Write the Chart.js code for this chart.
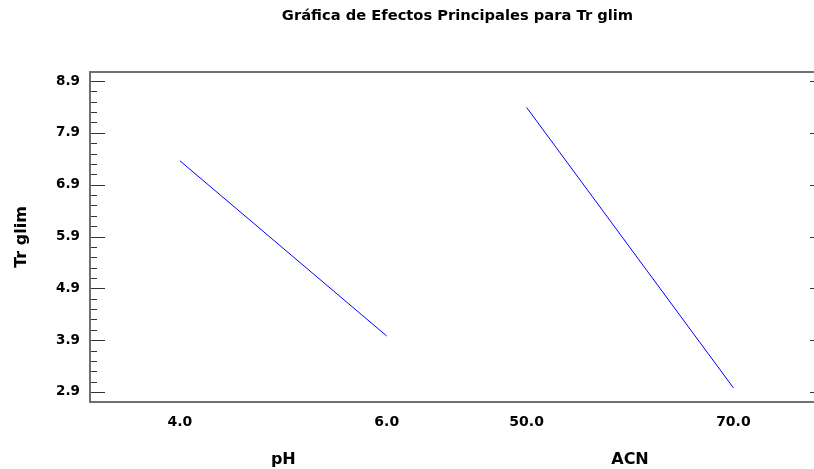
<!DOCTYPE html>
<html>
<head>
<meta charset="utf-8">
<script src="https://cdn.jsdelivr.net/npm/chart.js@4/dist/chart.umd.min.js"></script>
<style>
  html, body { margin: 0; padding: 0; overflow: hidden; background: #fff; width: 814px; height: 469px; }
  #wrap { position: relative; width: 830px; height: 469px; }
  canvas { display: block; }
</style>
</head>
<body>
<div id="wrap"><canvas id="c" width="830" height="469"></canvas></div>
<script>
// Main effects for Tr glim
const chartTitle = 'Gráfica de Efectos Principales para Tr glim';
const responseName = 'Tr glim';
const factorNames = ['pH', 'ACN'];
const phLevels = ['4.0', '6.0'];
const acnLevels = ['50.0', '70.0'];
const phMeans = [7.36, 3.98];
const acnMeans = [8.39, 2.98];
const yTickValues = [2.9, 3.9, 4.9, 5.9, 6.9, 7.9, 8.9];

// horizontal slots for each factor's low/high level on a shared linear axis
const SLOTS = [[0, 2], [3.353, 5.353]];
const X_MIN = -0.87, X_MAX = 6.239;
const Y_MIN = 2.707, Y_MAX = 9.074;

const levelLabels = phLevels.concat(acnLevels);
const levelPositions = SLOTS[0].concat(SLOTS[1]);

const FAMILY = '"DejaVu Sans", Verdana, sans-serif';

const framePlugin = {
  id: 'frame',
  afterDraw(chart) {
    const { ctx, chartArea: a, scales } = chart;
    const y = scales.y, x = scales.x;
    ctx.save();
    // inner tick marks on both vertical sides
    ctx.strokeStyle = '#333';
    ctx.lineWidth = 1;
    const drawTick = (v, len) => {
      const py = Math.round(y.getPixelForValue(v)) + 0.5;
      ctx.beginPath();
      ctx.moveTo(a.left, py); ctx.lineTo(a.left + len, py);
      ctx.moveTo(a.right, py); ctx.lineTo(a.right - len, py);
      ctx.stroke();
    };
    yTickValues.forEach(v => drawTick(v, 15));
    for (let i = 0; i < yTickValues.length - 1; i++) {
      const step = (yTickValues[i + 1] - yTickValues[i]) / 5;
      for (let k = 1; k < 5; k++) drawTick(yTickValues[i] + k * step, 7);
    }
    // plot frame
    ctx.strokeStyle = '#707070';
    ctx.lineWidth = 2;
    ctx.strokeRect(a.left, a.top, a.right - a.left, a.bottom - a.top);

    // chart title
    ctx.fillStyle = '#000';
    ctx.textAlign = 'center';
    ctx.textBaseline = 'alphabetic';
    ctx.font = 'bold 14.7px ' + FAMILY;
    ctx.fillText(chartTitle, (a.left + a.right) / 2, 20);

    // factor names under each pair of levels
    ctx.font = 'bold 16px ' + FAMILY;
    factorNames.forEach((name, i) => {
      const cx = (x.getPixelForValue(SLOTS[i][0]) + x.getPixelForValue(SLOTS[i][1])) / 2;
      ctx.fillText(name, cx, 464);
    });
    ctx.restore();
  }
};

const lineStyle = {
  borderColor: '#0000ff',
  borderWidth: 1,
  pointRadius: 0,
  tension: 0,
  fill: false
};

new Chart(document.getElementById('c'), {
  type: 'line',
  data: {
    datasets: [
      Object.assign({ label: factorNames[0], data: phMeans.map((m, i) => ({ x: SLOTS[0][i], y: m })) }, lineStyle),
      Object.assign({ label: factorNames[1], data: acnMeans.map((m, i) => ({ x: SLOTS[1][i], y: m })) }, lineStyle)
    ]
  },
  options: {
    responsive: false,
    animation: false,
    devicePixelRatio: 1,
    layout: { padding: { top: 72, right: 5, bottom: 0, left: 0 } },
    plugins: { legend: { display: false }, title: { display: false }, tooltip: { enabled: false } },
    scales: {
      x: {
        type: 'linear',
        min: X_MIN,
        max: X_MAX,
        grid: { display: false, drawTicks: false },
        border: { display: false },
        afterBuildTicks: s => { s.ticks = levelPositions.map(v => ({ value: v })); },
        afterFit: s => { s.height = 67; },
        ticks: {
          autoSkip: false,
          maxRotation: 0,
          padding: 12,
          color: '#000',
          font: { family: FAMILY, size: 14, weight: 'bold' },
          callback: (v, i) => levelLabels[i]
        }
      },
      y: {
        type: 'linear',
        min: Y_MIN,
        max: Y_MAX,
        grid: { display: false, drawTicks: false },
        border: { display: false },
        afterBuildTicks: s => { s.ticks = yTickValues.map(v => ({ value: v })); },
        afterFit: s => { s.width = 90; },
        ticks: {
          padding: 10,
          color: '#000',
          font: { family: FAMILY, size: 13.5, weight: 'bold' },
          callback: v => Number(v).toFixed(1)
        },
        title: {
          display: true,
          text: responseName,
          color: '#000',
          padding: { top: 12, bottom: 0 },
          font: { family: FAMILY, size: 16, weight: 'bold' }
        }
      }
    }
  },
  plugins: [framePlugin]
});
</script>
</body>
</html>
